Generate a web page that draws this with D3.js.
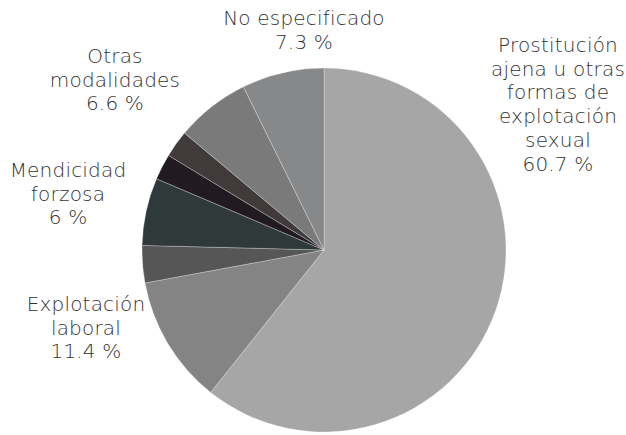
<!DOCTYPE html>
<html>
<head>
<meta charset="utf-8">
<script src="https://cdn.jsdelivr.net/npm/d3@7"></script>
<style>
  html, body { margin: 0; padding: 0; background: #ffffff; }
  svg { display: block; }
  .lbl { font-family: "DejaVu Sans", sans-serif; font-weight: 200; font-size: 20px; letter-spacing: 0.2px; fill: #333333; }
</style>
</head>
<body>
<svg id="chart" width="626" height="435"></svg>
<script>
// Modalidades de explotación (porcentaje de víctimas)
const categories = [
  "Prostitución ajena u otras formas de explotación sexual",
  "Explotación laboral",
  "Otra (a)",
  "Mendicidad forzosa",
  "Otra (b)",
  "Otra (c)",
  "Otras modalidades",
  "No especificado"
];
const values = [60.7, 11.4, 3.3, 6, 2.3, 2.4, 6.6, 7.3];
// Label lines shown next to the pie (empty = unlabelled slice)
const labelLines = [
  ["Prostitución", "ajena u otras", "formas de", "explotación", "sexual", "60.7 %"],
  ["Explotación", "laboral", "11.4 %"],
  [],
  ["Mendicidad", "forzosa", "6 %"],
  [],
  [],
  ["Otras", "modalidades", "6.6 %"],
  ["No especificado", "7.3 %"]
];
const colors = ["#a6a6a6", "#848484", "#565656", "#2f393a", "#211b21", "#403a3a", "#7a7a7a", "#87888a"];

const svg = d3.select("#chart");
const cx = 324, cy = 250, R = 182;

const data = categories.map((c, i) => ({ name: c, value: values[i], lines: labelLines[i], color: colors[i] }));

const pie = d3.pie().sort(null).value(d => d.value);
const arc = d3.arc().innerRadius(0).outerRadius(R);
const arcs = pie(data);

const g = svg.append("g").attr("transform", `translate(${cx},${cy})`);
g.selectAll("path")
  .data(arcs)
  .join("path")
  .attr("d", arc)
  .attr("fill", d => d.data.color)
  .attr("stroke", "#ffffff")
  .attr("stroke-opacity", 0.35)
  .attr("stroke-width", 0.8);

// Label anchor points (centre of first baseline) for each labelled slice
const labelAnchor = {
  0: [558, 52],
  1: [86, 311],
  3: [68, 177],
  6: [115, 63],
  7: [304, 25]
};
const lineH = 23.7;

arcs.forEach((a, i) => {
  if (!a.data.lines.length) return;
  const [x, y] = labelAnchor[i];
  const t = svg.append("text")
    .attr("class", "lbl")
    .attr("text-anchor", "middle")
    .attr("x", x).attr("y", y);
  a.data.lines.forEach((ln, k) => {
    t.append("tspan").attr("x", x).attr("dy", k === 0 ? 0 : lineH).text(ln);
  });
});
</script>
</body>
</html>
